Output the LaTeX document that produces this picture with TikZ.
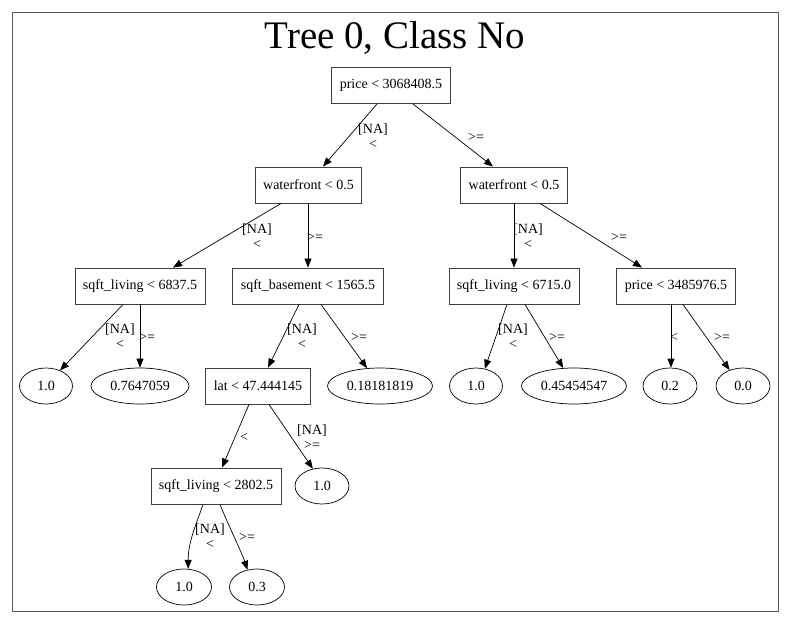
\documentclass[tikz,border=0pt]{standalone}
\usepackage{fontspec}
\setmainfont{Liberation Serif}
\usetikzlibrary{arrows.meta,shapes.geometric}
\begin{document}
\begin{tikzpicture}[x=1pt,y=-1pt,
  every node/.style={font=\fontsize{14}{15}\selectfont},
  splitbox/.style={draw=black!75,line width=0.9pt,rectangle,minimum height=36pt,minimum width=54pt,inner xsep=8pt,inner ysep=0pt},
  leafnode/.style={draw=black,line width=0.7pt,ellipse,minimum height=36pt,inner sep=0pt},
  edgelbl/.style={align=center,inner sep=0pt,font=\fontsize{14}{14.5}\selectfont},
  conn/.style={draw=black,line width=0.7pt,-{Triangle[length=9pt,width=7pt]}}
]
\useasboundingbox (0,0) rectangle (790,624);
\fill[white] (0,0) rectangle (790,624);
\draw[black!65,line width=1pt] (12,12) rectangle (778,611);
\node[anchor=base,font=\fontsize{39}{44}\selectfont] (title) at (395,48) {Tree 0, Class No};

% split nodes
\node[splitbox] (root) at (391,85.5) {price < 3068408.5};
\node[splitbox] (wL) at (308.5,185) {waterfront < 0.5};
\node[splitbox] (wR) at (514,185) {waterfront < 0.5};
\node[splitbox] (sqL) at (140,286) {sqft\_living < 6837.5};
\node[splitbox] (sqB) at (308,286) {sqft\_basement < 1565.5};
\node[splitbox] (sqLb) at (514,286) {sqft\_living < 6715.0};
\node[splitbox] (prB) at (676,286) {price < 3485976.5};
\node[splitbox] (lat) at (258,386) {lat < 47.444145};
\node[splitbox] (sqLc) at (216,486) {sqft\_living < 2802.5};

% leaves
\node[leafnode,minimum width=53pt] (l1) at (46,386) {1.0};
\node[leafnode,minimum width=98pt] (l2) at (140,386) {0.7647059};
\node[leafnode,minimum width=105pt] (l3) at (380,386) {0.18181819};
\node[leafnode,minimum width=53pt] (l4) at (476,386) {1.0};
\node[leafnode,minimum width=105pt] (l5) at (574,386) {0.45454547};
\node[leafnode,minimum width=54pt] (l6) at (670,386) {0.2};
\node[leafnode,minimum width=54pt] (l7) at (743,386) {0.0};
\node[leafnode,minimum width=54pt] (l8) at (322,486) {1.0};
\node[leafnode,minimum width=55pt] (l9) at (184,587) {1.0};
\node[leafnode,minimum width=55pt] (l10) at (257,587) {0.3};

% connectors
\draw[conn] ([xshift=-14pt]root.south) -- ([xshift=14.5pt]wL.north);
\draw[conn] ([xshift=22pt]root.south) -- ([xshift=-21pt]wR.north);
\draw[conn] ([xshift=-27.5pt]wL.south) -- ([xshift=33pt]sqL.north);
\draw[conn] (wL.south -| sqB.north) -- (sqB.north);
\draw[conn] ([xshift=-17pt]sqL.south) -- (l1.48);
\draw[conn] (sqL.south) -- (l2.north);
\draw[conn] ([xshift=-9pt]sqB.south) -- ([xshift=10pt]lat.north);
\draw[conn] ([xshift=13pt]sqB.south) -- (l3.126);
\draw[conn] (wR.south) -- (sqLb.north);
\draw[conn] ([xshift=26pt]wR.south) -- ([xshift=-34pt]prB.north);
\draw[conn] ([xshift=-7pt]sqLb.south) -- (l4.63);
\draw[conn] ([xshift=11pt]sqLb.south) -- (l5.121);
\draw[conn] ([xshift=-5pt]prB.south) -- ([xshift=1pt]l6.north);
\draw[conn] ([xshift=7pt]prB.south) -- (l7.130);
\draw[conn] ([xshift=-9pt]lat.south) -- ([xshift=6pt]sqLc.north);
\draw[conn] ([xshift=11pt]lat.south) -- (l8.118);
\draw[conn] ([xshift=-13pt]sqLc.south) .. controls +(-6,18) and +(0,-28) .. (l9.77);
\draw[conn] ([xshift=4pt]sqLc.south) .. controls +(8,20) and +(-6,-18) .. (l10.119);

% edge labels
\node[edgelbl] (e1) at (373,136) {[NA]\\<};
\node[edgelbl] (e2) at (476,137) {>=};
\node[edgelbl] (e3) at (257,236) {[NA]\\<};
\node[edgelbl] (e4) at (315,237) {>=};
\node[edgelbl] (e5) at (120,336) {[NA]\\<};
\node[edgelbl] (e6) at (147,337) {>=};
\node[edgelbl] (e7) at (302,336) {[NA]\\<};
\node[edgelbl] (e8) at (359,337) {>=};
\node[edgelbl] (e9) at (528,236) {[NA]\\<};
\node[edgelbl] (e10) at (619,237) {>=};
\node[edgelbl] (e11) at (513,336) {[NA]\\<};
\node[edgelbl] (e12) at (557,337) {>=};
\node[edgelbl] (e13) at (674,337) {<};
\node[edgelbl] (e14) at (722,337) {>=};
\node[edgelbl] (e15) at (244,437) {<};
\node[edgelbl] (e16) at (312,437) {[NA]\\>=};
\node[edgelbl] (e17) at (210,536) {[NA]\\<};
\node[edgelbl] (e18) at (247,537) {>=};
\end{tikzpicture}
\end{document}
